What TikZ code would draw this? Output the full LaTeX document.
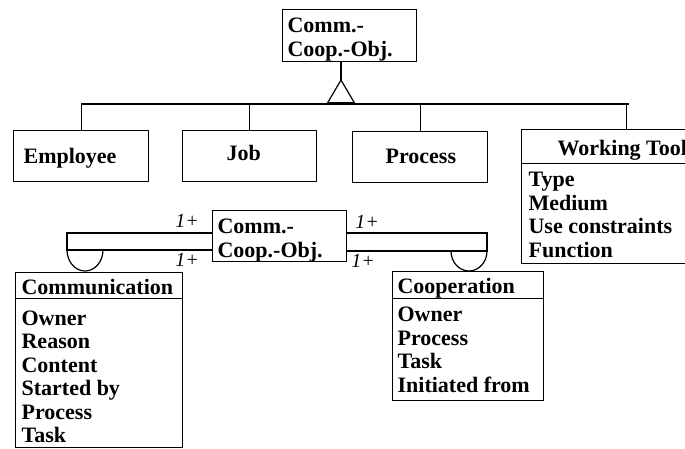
\documentclass[tikz,border=0pt]{standalone}
\usepackage{fontspec}
\setmainfont{Liberation Serif}
\usetikzlibrary{positioning}

\begin{document}
\begin{tikzpicture}[x=1pt,y=-1pt,line width=1.2pt,
font=\fontsize{22}{23.5}\selectfont\bfseries,
box/.style={draw, rectangle, inner sep=0pt, anchor=north west},
card/.style={align=left, anchor=base west, inner sep=0pt},
mult/.style={font=\fontsize{20}{20}\selectfont\itshape, inner sep=0pt}]
\clip (0,0) rectangle (685,448);

% boxes
\node[box, minimum width=134, minimum height=52] (obj) at (282,9) {};
\node[box, minimum width=135, minimum height=51] (emp) at (13,130) {};
\node[box, minimum width=134, minimum height=51] (job) at (182,130) {};
\node[box, minimum width=135, minimum height=51] (proc) at (352,131) {};
\node[box, minimum width=210, minimum height=134] (tool) at (521,129) {};
\node[box, minimum width=210, minimum height=34] (toolT) at (521,129) {};
\node[box, minimum width=134, minimum height=51] (mid) at (212,210) {};
\node[box, minimum width=167, minimum height=175] (comm) at (15,272) {};
\node[box, minimum width=167, minimum height=26] (commT) at (15,272) {};
\node[box, minimum width=151, minimum height=129] (coop) at (392,271) {};
\node[box, minimum width=151, minimum height=27] (coopT) at (392,271) {};

% texts (base = last line)
\node[card] (objL) at (287,56) {Comm.-\\Coop.-Obj.};
\node[card] (empL) at (23,163) {Employee};
\node[card] (jobL) at (226,160) {Job};
\node[card] (procL) at (385,163) {Process};
\node[card] (toolL) at (557,155) {Working Tool};
\node[card] (toolA) at (528,257) {Type\\Medium\\Use constraints\\Function};
\node[card] (midL) at (217,257) {Comm.-\\Coop.-Obj.};
\node[card] (commL) at (21,294) {Communication};
\node[card] (commA) at (21,442.5) {Owner\\Reason\\Content\\Started by\\Process\\Task};
\node[card] (coopL) at (397,293) {Cooperation};
\node[card] (coopA) at (397,392) {Owner\\Process\\Task\\Initiated from};

% generalization
\coordinate (apex) at (341,80);
\coordinate (bl) at (327.5,103);
\coordinate (br) at (354.5,103);
\coordinate (bar) at (341,104);
\draw (apex |- obj.south) -- (apex);
\draw (apex) -- (bl) -- (br) -- cycle;
\draw[line width=2.5pt] (bl) -- (br);
\draw (emp.north) -- (emp.north |- bar) -- ([xshift=2]tool.north |- bar);
\draw (job.north) -- (job.north |- bar);
\draw (proc.north) -- (proc.north |- bar);
\draw (tool.north) -- (tool.north |- bar);

% associations
\coordinate (la) at (67,233);
\coordinate (lb) at (67,250);
\draw (mid.west |- la) -- (la) -- (lb) -- (mid.west |- lb);
\draw (lb) arc[start angle=180, end angle=360, x radius=18pt, y radius=21pt];
\coordinate (ra) at (487,233);
\coordinate (rb) at (487,251);
\draw (mid.east |- ra) -- (ra) -- (rb) -- (mid.east |- rb);
\draw (rb) arc[start angle=0, end angle=-180, x radius=18pt, y radius=20pt];

\node[mult] (m1) at (187,221) {1+};
\node[mult] (m2) at (187,260) {1+};
\node[mult] (m3) at (367,222) {1+};
\node[mult] (m4) at (363,261) {1+};
\end{tikzpicture}
\end{document}
